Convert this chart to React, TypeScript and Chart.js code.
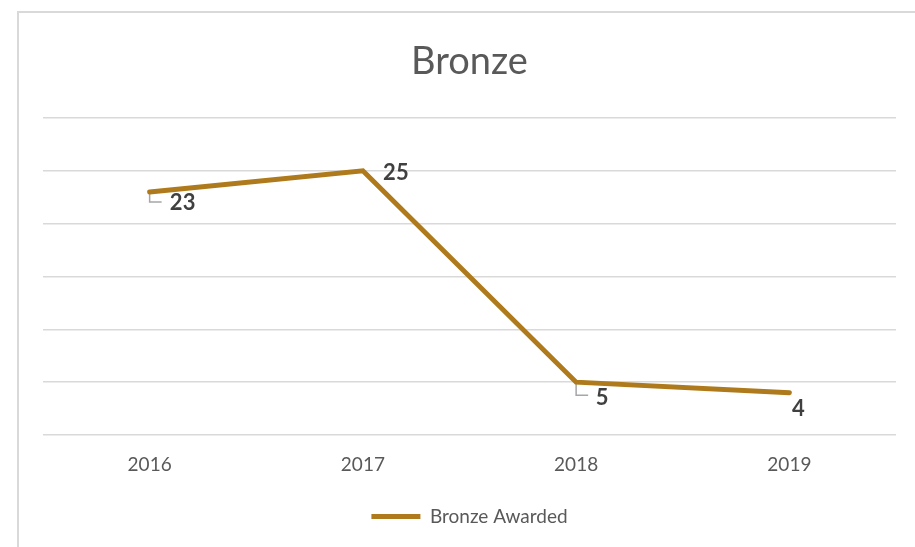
import React, { useEffect, useRef } from "react";
import { Chart, registerables } from "chart.js";

Chart.register(...registerables);

const categories = ["2016", "2017", "2018", "2019"];
const bronzeAwarded = [23, 25, 5, 4];
const seriesName = "Bronze Awarded";
const chartTitle = "Bronze";
const yMin = 0;
const yMax = 30;
const yStep = 5;

// label placement relative to each point (style only)
const labelLayout = [
  { dx: 33, dy: 11, leader: 10 },
  { dx: 33, dy: 2, leader: 0 },
  { dx: 26, dy: 16, leader: 13 },
  { dx: 9, dy: 16, leader: 0 },
];

const LINE_COLOR = "#AE7A1B";
const FONT = "Lato, 'Open Sans', sans-serif";

const framePlugin = {
  id: "frame",
  beforeDraw(chart: any) {
    const ctx = chart.ctx;
    ctx.save();
    ctx.fillStyle = "#ffffff";
    ctx.fillRect(0, 0, chart.width, chart.height);
    ctx.strokeStyle = "#d9d9d9";
    ctx.lineWidth = 2;
    ctx.beginPath();
    ctx.moveTo(18, chart.height);
    ctx.lineTo(18, 12);
    ctx.lineTo(chart.width, 12);
    ctx.stroke();
    ctx.restore();
  },
};

const labelsPlugin = {
  id: "dataLabelsCustom",
  beforeDatasetsDraw(chart: any) {
    const ctx = chart.ctx;
    const meta = chart.getDatasetMeta(0);
    ctx.save();
    ctx.strokeStyle = "#a6a6a6";
    ctx.lineWidth = 1.5;
    meta.data.forEach((pt: any, i: number) => {
      const l = labelLayout[i];
      if (!l || !l.leader) return;
      ctx.beginPath();
      ctx.moveTo(pt.x, pt.y + 1);
      ctx.lineTo(pt.x, pt.y + l.leader);
      ctx.lineTo(pt.x + 12, pt.y + l.leader);
      ctx.stroke();
    });
    ctx.restore();
  },
  afterDatasetsDraw(chart: any) {
    const ctx = chart.ctx;
    const meta = chart.getDatasetMeta(0);
    const data = chart.data.datasets[0].data;
    ctx.save();
    ctx.fillStyle = "#404040";
    ctx.font = `bold 22px ${FONT}`;
    ctx.textAlign = "center";
    ctx.textBaseline = "middle";
    meta.data.forEach((pt: any, i: number) => {
      const l = labelLayout[i];
      ctx.fillText(String(data[i]), pt.x + l.dx, pt.y + l.dy);
    });
    ctx.restore();
  },
};

export default function App() {
  const ref = useRef<HTMLCanvasElement>(null);
  useEffect(() => {
    if (!ref.current) return;
    const chart = new Chart(ref.current, {
      type: "line",
      data: {
        labels: categories,
        datasets: [
          {
            label: seriesName,
            data: bronzeAwarded,
            borderColor: LINE_COLOR,
            backgroundColor: LINE_COLOR,
            borderWidth: 5,
            borderCapStyle: "round",
            pointRadius: 0,
            pointHoverRadius: 0,
            tension: 0,
            fill: false,
          },
        ],
      },
      options: {
        responsive: false,
        animation: false,
        layout: { padding: { left: 43, right: 19, top: 0, bottom: 11 } },
        plugins: {
          title: {
            display: true,
            text: chartTitle,
            color: "#595959",
            font: { family: FONT, size: 38, weight: "normal" },
            padding: { top: 39, bottom: 33.4 },
          },
          legend: {
            display: true,
            position: "bottom",
            labels: {
              color: "#595959",
              font: { family: FONT, size: 19 },
              boxWidth: 49,
              boxHeight: 5,
              padding: 10,
              generateLabels: (chart: any) => [
                {
                  text: seriesName,
                  fillStyle: LINE_COLOR,
                  strokeStyle: LINE_COLOR,
                  lineWidth: 0,
                  datasetIndex: 0,
                  fontColor: "#595959",
                },
              ],
            },
          },
          tooltip: { enabled: false },
        },
        scales: {
          x: {
            offset: true,
            grid: { display: false, drawTicks: false },
            border: { display: false },
            ticks: {
              color: "#595959",
              font: { family: FONT, size: 19 },
              padding: 18,
            },
            afterFit: (s: any) => {
              s.height = 62;
            },
          },
          y: {
            min: yMin,
            max: yMax,
            ticks: { display: false, stepSize: yStep },
            grid: { color: "#d9d9d9", lineWidth: 1.5, drawTicks: false },
            border: { display: false },
            afterFit: (s: any) => {
              s.width = 0;
            },
          },
        },
      },
      plugins: [framePlugin, labelsPlugin],
    });
    return () => chart.destroy();
  }, []);
  return (
    <div style={{ position: "fixed", left: 0, top: 0, width: 915, height: 547 }}>
      <canvas ref={ref} width={915} height={547} style={{ display: "block" }} />
    </div>
  );
}
